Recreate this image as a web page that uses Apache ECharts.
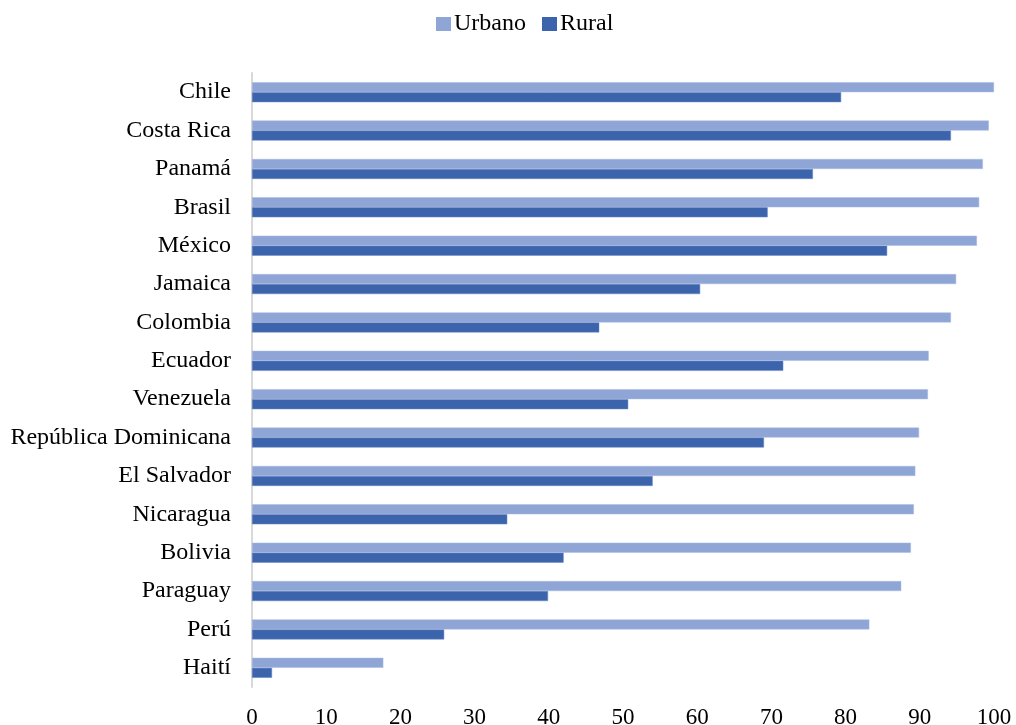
<!DOCTYPE html>
<html>
<head>
<meta charset="utf-8">
<script src="https://cdn.jsdelivr.net/npm/echarts@6/dist/echarts.min.js"></script>
<style>html,body{margin:0;padding:0;background:#fff;}#c{width:1016px;height:725px;}</style>
</head>
<body>
<div id="c"></div>
<script>
const categories = ["Chile","Costa Rica","Panamá","Brasil","México","Jamaica","Colombia","Ecuador","Venezuela","República Dominicana","El Salvador","Nicaragua","Bolivia","Paraguay","Perú","Haití"];
const urbano = [100, 99.3, 98.5, 98.0, 97.7, 94.9, 94.2, 91.2, 91.1, 89.9, 89.4, 89.2, 88.8, 87.5, 83.2, 17.7];
const rural  = [79.4, 94.2, 75.6, 69.5, 85.6, 60.4, 46.8, 71.6, 50.7, 69.0, 54.0, 34.4, 42.0, 39.9, 25.9, 2.7];
const xTicks = [0,10,20,30,40,50,60,70,80,90,100];

const font = '"Liberation Serif", "Times New Roman", serif';
const chart = echarts.init(document.getElementById('c'), null, {renderer:'canvas'});
chart.setOption({
  animation:false,
  textStyle:{fontFamily:font},
  legend:{
    top:7, left:431,
    itemWidth:15, itemHeight:14, itemGap:16,
    icon:'rect',
    itemStyle:{borderWidth:0},
    textStyle:{fontFamily:font, fontSize:24, color:'#000', padding:[0,0,0,-2]},
    data:['Urbano','Rural']
  },
  grid:{left:252, right:22, top:73, bottom:38, containLabel:false, outerBoundsMode:'none'},
  xAxis:{
    type:'value', min:xTicks[0], max:xTicks[xTicks.length-1], interval:10,
    axisLine:{show:false}, axisTick:{show:false}, splitLine:{show:false},
    axisLabel:{fontFamily:font, fontSize:23, color:'#000', margin:19}
  },
  yAxis:{
    type:'category', data:categories, inverse:true,
    axisLine:{show:true, lineStyle:{color:'#d9d9d9', width:2}},
    axisTick:{show:false},
    axisLabel:{fontFamily:font, fontSize:24, color:'#000', margin:21}
  },
  series:[
    {name:'Urbano', type:'bar', data:urbano, barWidth:10, barGap:'0%',
     itemStyle:{color:'#8EA5D6', borderColor:'#aabbe0', borderWidth:0.5}},
    {name:'Rural', type:'bar', data:rural, barWidth:10, barGap:'0%',
     itemStyle:{color:'#3B64AD', borderColor:'#6a88c2', borderWidth:0.5}}
  ]
});
</script>
</body>
</html>
